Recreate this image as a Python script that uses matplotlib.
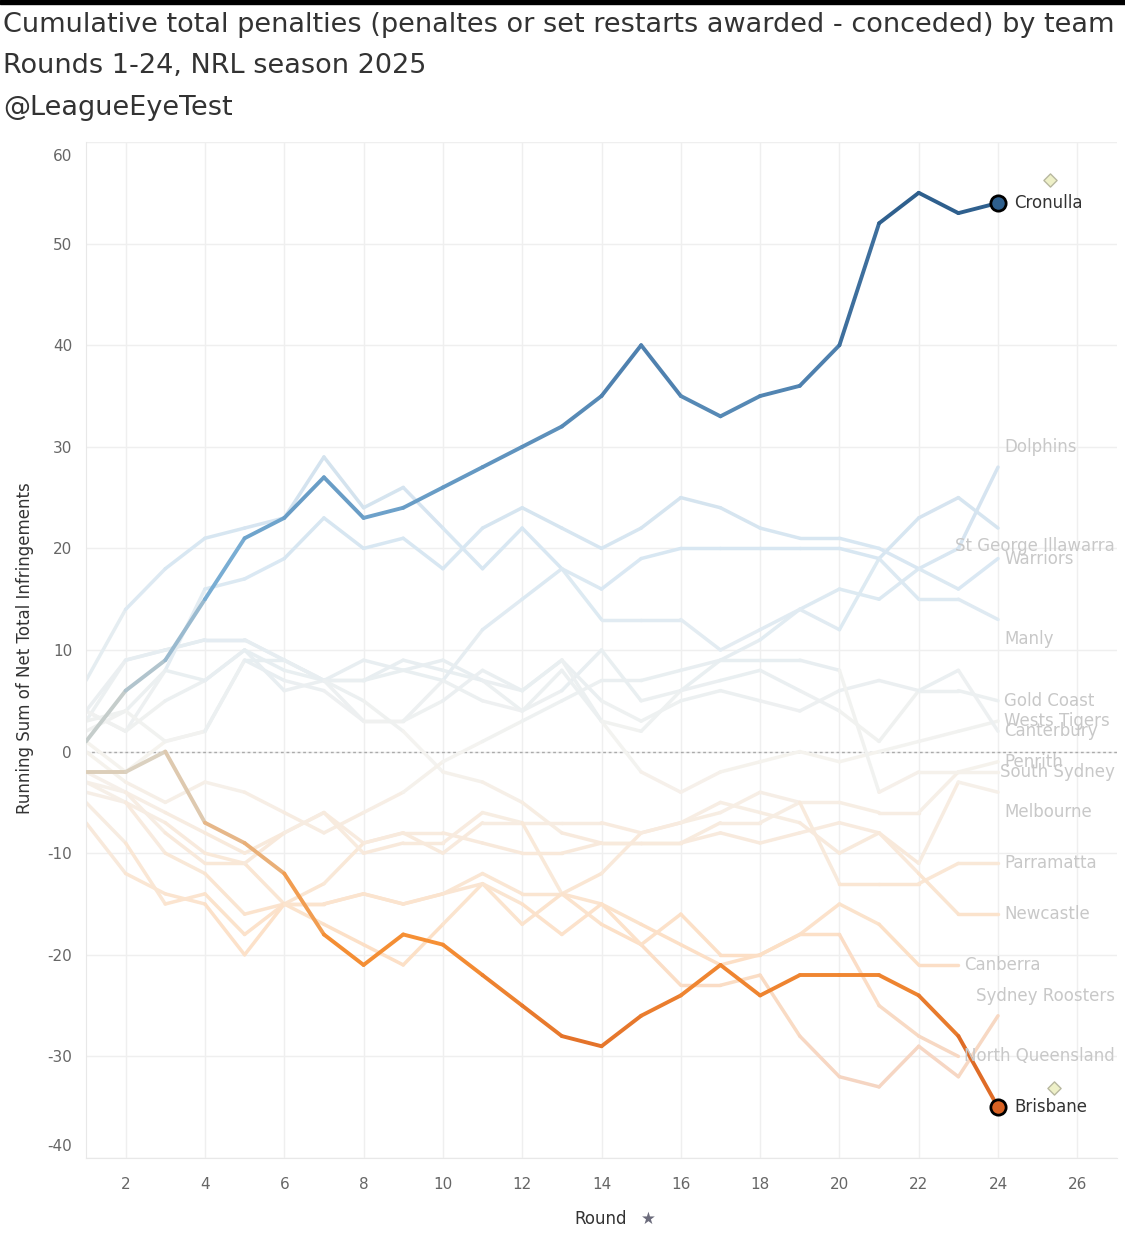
import numpy as np
import matplotlib
matplotlib.use("Agg")
import matplotlib.pyplot as plt
from matplotlib.collections import LineCollection
from matplotlib.colors import LinearSegmentedColormap, Normalize, to_rgb
from matplotlib.transforms import ScaledTranslation

plt.rcParams["axes.unicode_minus"] = False

# ======================================================
# DATA  (running sum of net infringements, rounds 1-24)
# ======================================================
cronulla = [1, 6, 9, 15, 21, 23, 27, 23, 24, 26, 28, 30, 32, 35, 40, 35, 33, 35, 36, 40, 52, 55, 53, 54]
dolphins = [3, 9, 10, 11, 11, 9, 7, 7, 9, 8, 7, 4, 6, 10, 5, 6, 9, 11, 14, 16, 15, 18, 20, 28]
st_george = [7, 14, 18, 21, 22, 23, 29, 24, 26, 22, 18, 22, 18, 13, 13, 13, 10, 12, 14, 12, 19, 23, 25, 22]
warriors = [4, 2, 8, 16, 17, 19, 23, 20, 21, 18, 22, 24, 22, 20, 22, 25, 24, 22, 21, 21, 20, 18, 16, 19]
manly = [4, 2, 5, 7, 10, 6, 7, 3, 3, 7, 12, 15, 18, 16, 19, 20, 20, 20, 20, 20, 19, 15, 15, 13]
gold_coast = [2, 4, 8, 7, 10, 8, 7, 9, 8, 9, 7, 6, 9, 5, 3, 5, 6, 5, 4, 6, 7, 6, 6, 5]
wests_tigers = [1, -2, 1, 2, 9, 7, 6, 3, 3, 5, 8, 6, 9, 3, -2, -4, -2, -1, 0, -1, 0, 1, 2, 3]
canterbury = [3, 4, 1, 2, 9, 9, 7, 7, 8, 7, 5, 4, 8, 3, 2, 6, 7, 8, 6, 4, 1, 6, 8, 2]
penrith = [4, 9, 10, 11, 11, 9, 7, 5, 2, -2, -3, -5, -8, -9, -9, -9, -7, -7, -5, -5, -6, -6, -2, -1]
south_sydney = [0, -3, -5, -3, -4, -6, -8, -6, -4, -1, 1, 3, 5, 7, 7, 8, 9, 9, 9, 8, -4, -2, -2, -2]
melbourne = [-3, -4, -6, -8, -10, -8, -6, -9, -8, -8, -9, -10, -10, -9, -9, -9, -8, -9, -8, -7, -8, -11, -3, -4]
parramatta = [-4, -5, -7, -10, -11, -15, -15, -14, -15, -14, -12, -14, -14, -12, -8, -7, -6, -4, -5, -13, -13, -13, -11, -11]
newcastle = [-3, -5, -10, -12, -16, -15, -13, -9, -8, -10, -7, -7, -7, -7, -8, -7, -5, -6, -7, -10, -8, -12, -16, -16]
canberra = [-5, -9, -15, -14, -18, -15, -17, -19, -21, -17, -13, -17, -14, -15, -17, -19, -21, -20, -18, -15, -17, -21, -21]
roosters = [-2, -4, -8, -11, -11, -8, -6, -10, -9, -9, -6, -7, -14, -17, -19, -23, -23, -22, -28, -32, -33, -29, -32, -26]
north_qld = [-7, -12, -14, -15, -20, -15, -15, -14, -15, -14, -13, -15, -18, -15, -19, -16, -20, -20, -18, -18, -25, -28, -30]
brisbane = [-2, -2, 0, -7, -9, -12, -18, -21, -18, -19, -22, -25, -28, -29, -26, -24, -21, -24, -22, -22, -22, -24, -28, -35]

team_names = ["Dolphins", "St George Illawarra", "Warriors", "Manly", "Gold Coast", "Wests Tigers",
              "Canterbury", "Penrith", "South Sydney", "Melbourne", "Parramatta", "Newcastle",
              "Canberra", "Sydney Roosters", "North Queensland"]
team_values = [dolphins, st_george, warriors, manly, gold_coast, wests_tigers, canterbury, penrith,
               south_sydney, melbourne, parramatta, newcastle, canberra, roosters, north_qld]
# y position of the end labels (pushed apart where they collide)
label_y = [30, 20.2, 19, 11.1, 5, 3, 2, -1, -2, -5.9, -11, -16, -21, -24.1, -30]

highlight_names = ["Cronulla", "Brisbane"]
highlight_values = [cronulla, brisbane]

diamond_x = [25.3, 25.4]
diamond_y = [56.3, -33.1]

# ======================================================
# FIGURE
# ======================================================
W, H = 1125, 1237
fig = plt.figure(figsize=(W / 100, H / 100), dpi=100)
fig.patch.set_facecolor("white")

ax = fig.add_axes([86 / W, 1 - 1158 / H, (1117 - 86) / W, (1158 - 142) / H])
ax.set_xlim(1, 27)
ax.set_ylim(-40, 60)

# Tableau orange-blue diverging
cmap = LinearSegmentedColormap.from_list(
    "ob", ["#9e3d22", "#d45b21", "#f69035", "#d9d5c9", "#77acd3", "#4f81af", "#2b5c8a"])
norm = Normalize(-56, 56)


def seg_colors(vals, fade):
    cols = []
    for a, b in zip(vals[:-1], vals[1:]):
        c = np.array(to_rgb(cmap(norm((a + b) / 2))))
        if fade:
            c = 1 - fade * (1 - c)
        cols.append(c)
    return cols


def draw_team(vals, lw, fade, z):
    r = np.arange(1, len(vals) + 1)
    pts = np.column_stack([r, vals])
    segs = [pts[i:i + 2] for i in range(len(pts) - 1)]
    lc = LineCollection(segs, colors=seg_colors(vals, fade), linewidths=lw,
                        capstyle="round", joinstyle="round", zorder=z)
    ax.add_collection(lc)


# grid
for xg in range(2, 27, 2):
    ax.axvline(xg, color="#efefef", lw=1, zorder=0)
for yg in range(-40, 61, 10):
    ax.axhline(yg, color="#efefef", lw=1, zorder=0)
ax.axhline(0, color="#aaaaaa", lw=1, ls=(0, (2, 2)), zorder=1)

for sp in ["top", "right"]:
    ax.spines[sp].set_visible(False)
for sp in ["left", "bottom"]:
    ax.spines[sp].set_color("#e8e8e8")

for vals in team_values:
    draw_team(vals, 2.5, 0.28, 2)
for vals in highlight_values:
    draw_team(vals, 2.8, None, 4)
    c = cmap(norm(vals[-1]))
    ax.plot(len(vals), vals[-1], "o", ms=11, mfc=c, mec="black", mew=2, zorder=5)

ax.scatter(diamond_x, diamond_y, marker="D", s=45, facecolor="#eef0c8",
           edgecolor="#b8b8a0", lw=1, zorder=3)

ax.set_xticks(range(2, 27, 2))
ax.set_yticks(range(-40, 61, 10))
ax.tick_params(length=0, colors="#666666", labelsize=11)
ax.tick_params(axis="x", pad=14)
ax.tick_params(axis="y", pad=10)
for t in ax.get_yticklabels():
    if t.get_text() == "60":
        t.set_va("top")
        t.set_transform(t.get_transform() + ScaledTranslation(0, -7 / 100, fig.dpi_scale_trans))
    elif t.get_text() == "-40":
        t.set_va("bottom")
        t.set_transform(t.get_transform() + ScaledTranslation(0, 4 / 100, fig.dpi_scale_trans))

# ======================================================
# END LABELS
# ======================================================
fig.canvas.draw()
rend = fig.canvas.get_renderer()
right_px = 1115


def end_label(name, vals, y, color, gap):
    x = len(vals) + gap
    t = ax.text(x, y, name, fontsize=12, color=color, va="center", ha="left", zorder=6)
    bb = t.get_window_extent(rend)
    if bb.x1 > right_px:
        xr = ax.transData.inverted().transform((right_px, 0))[0]
        t.set_x(xr)
        t.set_ha("right")


for name, vals, y in zip(team_names, team_values, label_y):
    end_label(name, vals, y, "#c8c8c8", 0.15)
for name, vals in zip(highlight_names, highlight_values):
    end_label(name, vals, vals[-1], "#333333", 0.4)

# ======================================================
# TITLES
# ======================================================
fig.add_artist(plt.Rectangle((0, 1 - 4 / H), 1, 4 / H, transform=fig.transFigure,
                             color="black", zorder=10))
title_lines = ["Cumulative total penalties (penaltes or set restarts awarded - conceded) by team",
               "Rounds 1-24, NRL season 2025",
               "@LeagueEyeTest"]
for i, line in enumerate(title_lines):
    fig.text(3 / W, 1 - (25 + 41.5 * i) / H, line, fontsize=19.5, color="#333333",
             va="center", ha="left")

fig.text(25 / W, 1 - 648 / H, "Running Sum of Net Total Infringements", rotation=90,
         fontsize=12, color="#333333", va="center", ha="center")
fig.text(601 / W, 1 - 1219 / H, "Round", fontsize=12, color="#333333",
         va="center", ha="center")
fig.text(648 / W, 1 - 1219 / H, "\u2605", fontsize=12, color="#6b6b7b",
         va="center", ha="center")

fig.savefig("out.png", dpi=100)
